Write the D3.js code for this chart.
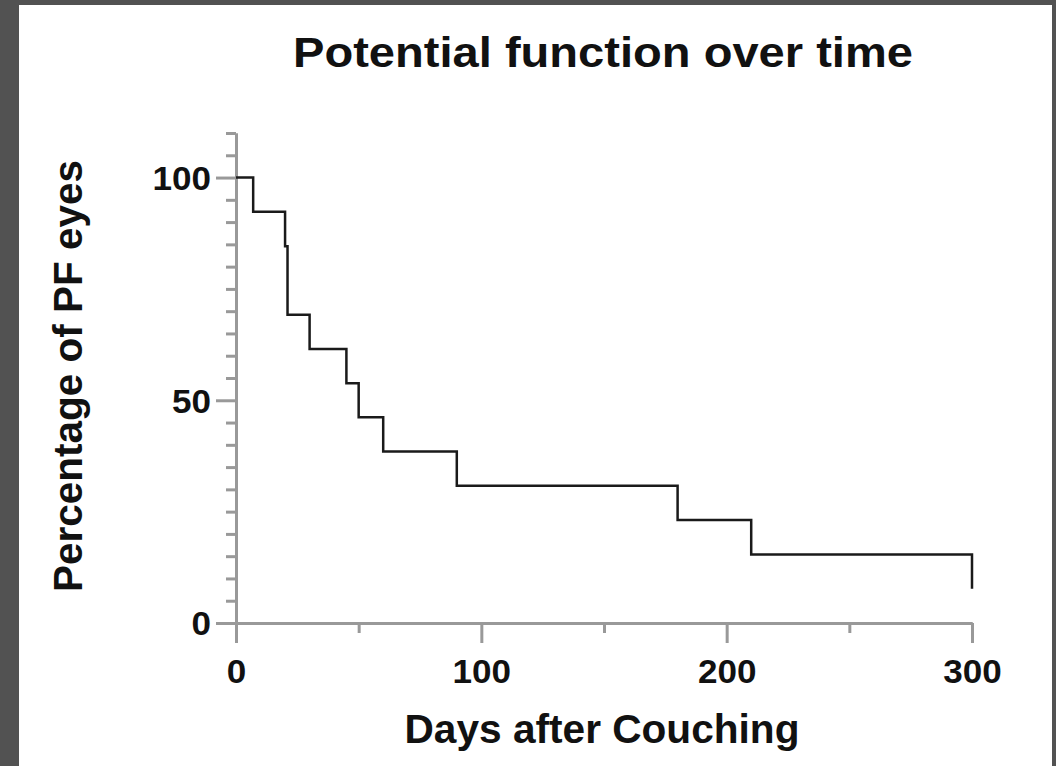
<!DOCTYPE html>
<html>
<head>
<meta charset="utf-8">
<script src="https://cdn.jsdelivr.net/npm/d3@7"></script>
<style>
  html, body { margin: 0; padding: 0; background: #525252; }
  svg { display: block; }
  text { font-family: "Liberation Sans", Arial, sans-serif; font-weight: bold; fill: #111; }
</style>
</head>
<body>
<script>
// Kaplan-Meier style step data
var days = [0, 7, 20, 21, 30, 45, 50, 60, 90, 180, 210, 300];
var percentPF = [100, 92.3, 84.6, 69.2, 61.5, 53.8, 46.2, 38.5, 30.8, 23.1, 15.4, 7.7];

var xMajorTicks = [0, 100, 200, 300];
var xMinorTicks = [50, 150, 250];
var yMajorTicks = [0, 50, 100];
var yMinorTicks = d3.range(5, 111, 5).filter(function(v) { return v % 50 !== 0; });

var svgWidth = 1056;
var svgHeight = 766;

var svg = d3.select("body")
  .append("svg")
  .attr("width", svgWidth)
  .attr("height", svgHeight);

// white panel inside the dark frame
svg.append("rect")
  .attr("x", 19)
  .attr("y", 5)
  .attr("width", 1033)
  .attr("height", 770)
  .attr("fill", "#fff");

var xScale = d3.scaleLinear().domain([0, 300]).range([236, 972]);
var yScale = d3.scaleLinear().domain([0, 110]).range([623, 133]);

var axisColor = "#999";

function styleAxis(g) {
  g.selectAll("path.domain").attr("stroke", axisColor).attr("stroke-width", 3);
  g.selectAll(".tick line").attr("stroke", axisColor).attr("stroke-width", 3);
}

// y axis, minor ticks
svg.append("g")
  .attr("transform", "translate(" + xScale(0) + ",0)")
  .call(d3.axisLeft(yScale).tickValues(yMinorTicks).tickSize(10).tickSizeOuter(0).tickFormat(""))
  .call(styleAxis);

// y axis, major ticks and labels
var yAxisG = svg.append("g")
  .attr("transform", "translate(" + xScale(0) + ",0)")
  .call(d3.axisLeft(yScale).tickValues(yMajorTicks).tickSize(20).tickSizeOuter(0))
  .call(styleAxis);

yAxisG.selectAll(".tick text")
  .attr("x", -25)
  .attr("dy", "0.36em")
  .style("font-size", "33px")
  .style("font-family", "Liberation Sans, Arial, sans-serif")
  .style("font-weight", "bold")
  .attr("fill", "#111")
  .attr("textLength", function(d) { return String(d).length * 19.5; })
  .attr("lengthAdjust", "spacingAndGlyphs");

// x axis, minor ticks
svg.append("g")
  .attr("transform", "translate(0," + yScale(0) + ")")
  .call(d3.axisBottom(xScale).tickValues(xMinorTicks).tickSize(10).tickSizeOuter(0).tickFormat(""))
  .call(styleAxis);

// x axis, major ticks and labels
var xAxisG = svg.append("g")
  .attr("transform", "translate(0," + yScale(0) + ")")
  .call(d3.axisBottom(xScale).tickValues(xMajorTicks).tickSize(20).tickSizeOuter(0))
  .call(styleAxis);

xAxisG.selectAll(".tick text")
  .attr("y", 60)
  .attr("dy", null)
  .style("font-size", "33px")
  .style("font-family", "Liberation Sans, Arial, sans-serif")
  .style("font-weight", "bold")
  .attr("fill", "#111")
  .attr("textLength", function(d) { return String(d).length * 19.5; })
  .attr("lengthAdjust", "spacingAndGlyphs");

// survival step line
var stepLine = d3.line()
  .x(function(d, i) { return xScale(days[i]); })
  .y(function(d) { return yScale(d); })
  .curve(d3.curveStepAfter);

svg.append("path")
  .datum(percentPF)
  .attr("d", stepLine)
  .attr("fill", "none")
  .attr("stroke", "#1a1a1a")
  .attr("stroke-width", 2.5);

// title
svg.append("text")
  .attr("x", 603)
  .attr("y", 67)
  .attr("text-anchor", "middle")
  .style("font-size", "43px")
  .attr("textLength", 620)
  .attr("lengthAdjust", "spacingAndGlyphs")
  .text("Potential function over time");

// x axis label
svg.append("text")
  .attr("x", 602)
  .attr("y", 743)
  .attr("text-anchor", "middle")
  .style("font-size", "40px")
  .attr("textLength", 395)
  .attr("lengthAdjust", "spacingAndGlyphs")
  .text("Days after Couching");

// y axis label
svg.append("text")
  .attr("transform", "translate(82,376) rotate(-90)")
  .attr("text-anchor", "middle")
  .style("font-size", "40px")
  .attr("textLength", 432)
  .attr("lengthAdjust", "spacingAndGlyphs")
  .text("Percentage of PF eyes");
</script>
</body>
</html>
